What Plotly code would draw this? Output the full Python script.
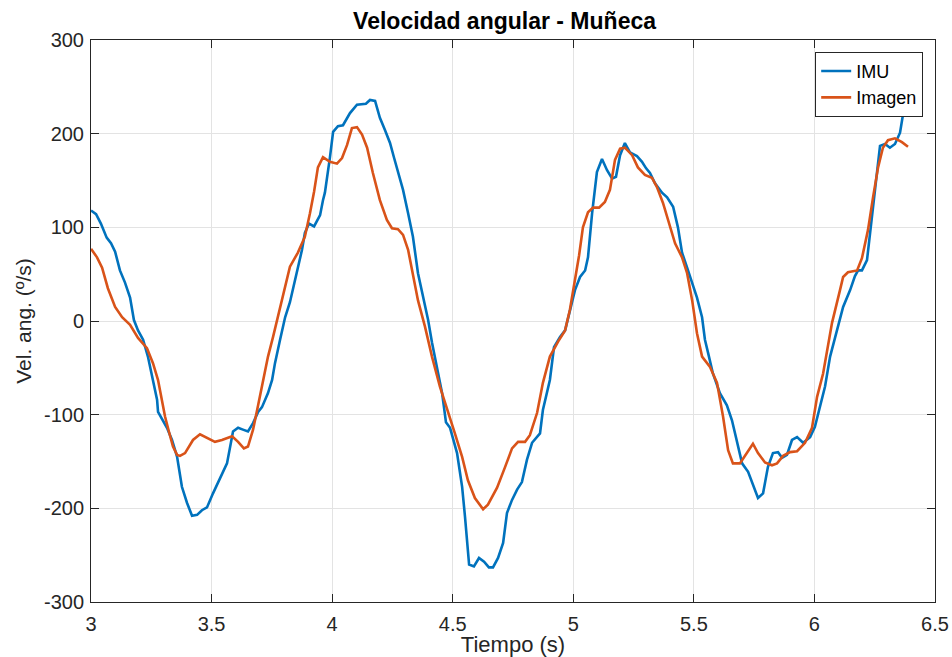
import plotly.graph_objects as go

# Wrist angular velocity: IMU sensor vs. image-based estimate
t_imu = [3.000, 3.021, 3.041, 3.065, 3.083, 3.100, 3.120, 3.141, 3.162, 3.178,
         3.195, 3.216, 3.236, 3.257, 3.274, 3.278, 3.315, 3.336, 3.357, 3.377,
         3.398, 3.419, 3.440, 3.460, 3.481, 3.506, 3.535, 3.564, 3.589, 3.610,
         3.630, 3.651, 3.672, 3.693, 3.709, 3.734, 3.751, 3.763, 3.784, 3.805,
         3.825, 3.842, 3.858, 3.875, 3.887, 3.904, 3.925, 3.950, 3.962, 3.970,
         3.991, 4.004, 4.024, 4.045, 4.074, 4.103, 4.140, 4.157, 4.178, 4.198,
         4.219, 4.240, 4.257, 4.273, 4.294, 4.315, 4.335, 4.356, 4.377, 4.398,
         4.414, 4.435, 4.456, 4.472, 4.489, 4.518, 4.539, 4.551, 4.568, 4.588,
         4.609, 4.630, 4.650, 4.667, 4.688, 4.709, 4.725, 4.746, 4.767, 4.787,
         4.808, 4.829, 4.862, 4.874, 4.891, 4.903, 4.920, 4.945, 4.966, 4.986,
         5.007, 5.028, 5.049, 5.061, 5.078, 5.098, 5.119, 5.140, 5.161, 5.177,
         5.194, 5.214, 5.235, 5.264, 5.285, 5.302, 5.318, 5.339, 5.368, 5.389,
         5.414, 5.434, 5.451, 5.472, 5.493, 5.513, 5.534, 5.546, 5.559, 5.579,
         5.608, 5.637, 5.658, 5.679, 5.700, 5.725, 5.745, 5.766, 5.787, 5.807,
         5.828, 5.849, 5.866, 5.886, 5.907, 5.928, 5.953, 5.982, 6.002, 6.023,
         6.044, 6.065, 6.098, 6.119, 6.148, 6.168, 6.181, 6.197, 6.218, 6.239,
         6.260, 6.272, 6.293, 6.313, 6.334, 6.355, 6.376, 6.388]
v_imu = [118, 114, 104, 89, 83, 74, 54, 41, 25, 1,
         -10, -20, -38, -63, -84, -97, -114, -127, -145, -177,
         -194, -208, -207, -202, -199, -184, -168, -152, -118, -114,
         -116, -118, -109, -97, -92, -77, -63, -45, -20, 4,
         20, 38, 58, 76, 94, 104, 101, 113, 129, 137,
         175, 202, 208, 209, 222, 231, 232, 236, 235, 217,
         204, 190, 174, 158, 140, 115, 90, 51, 26, 1,
         -23, -49, -77, -108, -114, -141, -177, -209, -260, -262,
         -253, -257, -263, -263, -253, -237, -205, -191, -180, -172,
         -148, -130, -120, -95, -77, -63, -28, -17, -10, 12,
         33, 47, 54, 68, 115, 159, 173, 161, 152, 154,
         177, 190, 180, 176, 170, 163, 158, 147, 137, 132,
         122, 100, 73, 57, 41, 25, 4, -20, -34, -56,
         -77, -90, -106, -130, -152, -161, -175, -189, -184, -156,
         -141, -140, -146, -143, -127, -124, -130, -124, -113, -92,
         -70, -38, -6, 15, 33, 48, 54, 54, 65, 111,
         158, 187, 189, 185, 189, 201, 234, 239]

t_img = [3.000, 3.025, 3.046, 3.070, 3.100, 3.129, 3.162, 3.195, 3.232, 3.257,
         3.278, 3.294, 3.307, 3.323, 3.340, 3.357, 3.369, 3.390, 3.423, 3.452,
         3.481, 3.514, 3.543, 3.585, 3.610, 3.634, 3.651, 3.672, 3.693, 3.713,
         3.734, 3.755, 3.775, 3.805, 3.825, 3.858, 3.887, 3.908, 3.925, 3.941,
         3.962, 3.991, 4.020, 4.041, 4.062, 4.082, 4.103, 4.124, 4.145, 4.169,
         4.198, 4.227, 4.248, 4.273, 4.294, 4.315, 4.335, 4.356, 4.385, 4.414,
         4.447, 4.480, 4.509, 4.539, 4.563, 4.592, 4.626, 4.646, 4.684, 4.717,
         4.746, 4.771, 4.800, 4.820, 4.850, 4.874, 4.903, 4.937, 4.966, 4.986,
         5.007, 5.024, 5.040, 5.061, 5.082, 5.107, 5.131, 5.152, 5.173, 5.194,
         5.214, 5.244, 5.268, 5.297, 5.326, 5.347, 5.372, 5.401, 5.422, 5.451,
         5.472, 5.493, 5.513, 5.534, 5.567, 5.596, 5.621, 5.642, 5.662, 5.691,
         5.720, 5.745, 5.766, 5.795, 5.824, 5.845, 5.870, 5.899, 5.928, 5.961,
         5.990, 6.011, 6.036, 6.073, 6.106, 6.119, 6.139, 6.177, 6.197, 6.222,
         6.243, 6.264, 6.284, 6.305, 6.334, 6.363, 6.388]
v_img = [77, 68, 57, 35, 15, 4, -4, -18, -29, -45,
         -63, -84, -102, -118, -134, -143, -144, -141, -127, -121,
         -125, -129, -127, -123, -129, -136, -134, -116, -90, -63,
         -38, -17, 4, 36, 58, 73, 90, 115, 138, 164,
         175, 170, 168, 174, 188, 206, 207, 199, 185, 158,
         129, 108, 99, 98, 92, 76, 51, 22, -6, -38,
         -70, -98, -120, -145, -170, -189, -201, -196, -178, -156,
         -136, -129, -129, -122, -98, -66, -38, -22, -10, 12,
         44, 70, 100, 116, 121, 121, 127, 140, 172, 184,
         185, 177, 164, 156, 153, 143, 126, 100, 83, 68,
         51, 22, -13, -38, -49, -66, -102, -138, -152, -152,
         -140, -131, -141, -151, -154, -152, -144, -140, -139, -130,
         -114, -81, -56, -2, 33, 47, 52, 54, 67, 97,
         132, 164, 185, 193, 195, 191, 186]

x_ticks = [3, 3.5, 4, 4.5, 5, 5.5, 6, 6.5]
x_labels = ["3", "3.5", "4", "4.5", "5", "5.5", "6", "6.5"]
y_ticks = [-300, -200, -100, 0, 100, 200, 300]
y_labels = ["-300", "-200", "-100", "0", "100", "200", "300"]

FONT = "Liberation Sans, Arial, Helvetica, sans-serif"
AXIS_COLOR = "#262626"
GRID_COLOR = "#e3e3e3"

fig = go.Figure()
fig.add_trace(go.Scatter(x=t_imu, y=v_imu, mode="lines", name="IMU",
                         line=dict(color="#0072BD", width=2.6)))
fig.add_trace(go.Scatter(x=t_img, y=v_img, mode="lines", name="Imagen",
                         line=dict(color="#D95319", width=2.6)))

axis_common = dict(
    showline=True, linecolor=AXIS_COLOR, linewidth=1, mirror="ticks",
    ticks="inside", ticklen=8, tickcolor=AXIS_COLOR, tickwidth=1,
    showgrid=True, gridcolor=GRID_COLOR, gridwidth=1, zeroline=False,
    automargin=False,
    tickfont=dict(family=FONT, size=20, color=AXIS_COLOR),
)

fig.update_xaxes(range=[3, 6.5], tickvals=x_ticks, ticktext=x_labels,
                 ticklabelstandoff=4,
                 title=dict(text="Tiempo (s)", standoff=2,
                            font=dict(family=FONT, size=22, color=AXIS_COLOR)),
                 **axis_common)
fig.update_yaxes(range=[-300, 300], tickvals=y_ticks, ticktext=y_labels,
                 ticklabelstandoff=2,
                 title=dict(text="Vel. ang. (º/s)", standoff=6,
                            font=dict(family=FONT, size=21, color=AXIS_COLOR)),
                 **axis_common)

fig.update_layout(
    width=952, height=657,
    margin=dict(l=91, r=17, t=40, b=55),
    paper_bgcolor="white", plot_bgcolor="white",
    title=dict(text="<b>Velocidad angular - Muñeca</b>", x=0.530, xanchor="center",
               y=0.968, yanchor="middle",
               font=dict(family=FONT, size=23, color="black")),
    legend=dict(x=0.986, y=0.979, xanchor="right", yanchor="top",
                bgcolor="white", bordercolor=AXIS_COLOR, borderwidth=1,
                font=dict(family=FONT, size=18, color="black"),
                tracegroupgap=0, itemwidth=30),
    showlegend=True,
)

fig.write_html("out.html")
